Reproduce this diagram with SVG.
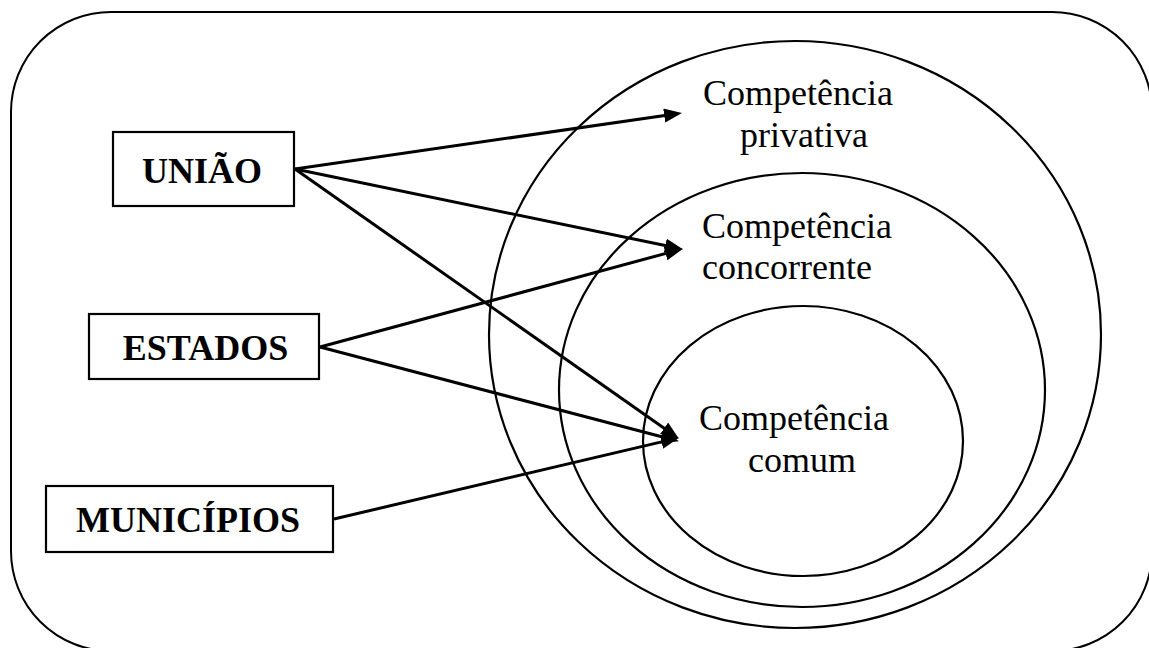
<svg xmlns="http://www.w3.org/2000/svg" width="1149" height="648" viewBox="0 0 1149 648">
<style>
.frame{fill:none;stroke:#000;stroke-width:2}
.box{fill:#fff;stroke:#000;stroke-width:2.2}
.ell{fill:none;stroke:#000;stroke-width:2.2}
.lbl{font-family:"Liberation Serif","Times New Roman",serif;font-size:36px;font-weight:bold;fill:#000;text-anchor:middle}
.ctext{font-family:"Liberation Serif","Times New Roman",serif;font-size:36px;fill:#000}
.conn line{stroke:#000;stroke-width:3;marker-end:url(#ah)}
</style>
<defs>
<marker id="ah" markerUnits="userSpaceOnUse" markerWidth="19" markerHeight="15" refX="11" refY="7" orient="auto">
<path d="M0,0 L18,7 L0,14 Z" fill="#000"/>
</marker>
</defs>
<rect fill="#fff" x="0" y="0" width="1149" height="648"/>
<rect class="frame" x="11" y="12" width="1141" height="639" rx="100" ry="100"/>
<g id="sets">
<g id="privativa">
<ellipse class="ell" cx="795" cy="334.5" rx="306" ry="293.5"/>
<text class="ctext" x="703" y="105">Competência</text>
<text class="ctext" x="740" y="147">privativa</text>
</g>
<g id="concorrente">
<ellipse class="ell" cx="802" cy="390" rx="243" ry="217"/>
<text class="ctext" x="702" y="238">Competência</text>
<text class="ctext" x="702" y="279">concorrente</text>
</g>
<g id="comum">
<ellipse class="ell" cx="803" cy="441" rx="160" ry="135"/>
<text class="ctext" x="699" y="430">Competência</text>
<text class="ctext" x="748" y="472">comum</text>
</g>
</g>
<g id="uniao">
<rect class="box" x="113" y="132" width="181" height="74"/>
<text class="lbl" x="202" y="183">UNIÃO</text>
</g>
<g id="estados">
<rect class="box" x="89" y="314" width="230" height="65"/>
<text class="lbl" x="205.5" y="360">ESTADOS</text>
</g>
<g id="municipios">
<rect class="box" x="46" y="486" width="287" height="66"/>
<text class="lbl" x="188" y="532">MUNICÍPIOS</text>
</g>
<g id="connectors" class="conn">
<line x1="295" y1="169" x2="675.1" y2="113.9"/>
<line x1="295" y1="169" x2="676.1" y2="247.8"/>
<line x1="295" y1="169" x2="673.1" y2="434.6"/>
<line x1="320" y1="347" x2="676.2" y2="250.6"/>
<line x1="320" y1="347" x2="672.2" y2="439.5"/>
<line x1="334" y1="519" x2="672.2" y2="439.4"/>
</g>
</svg>
